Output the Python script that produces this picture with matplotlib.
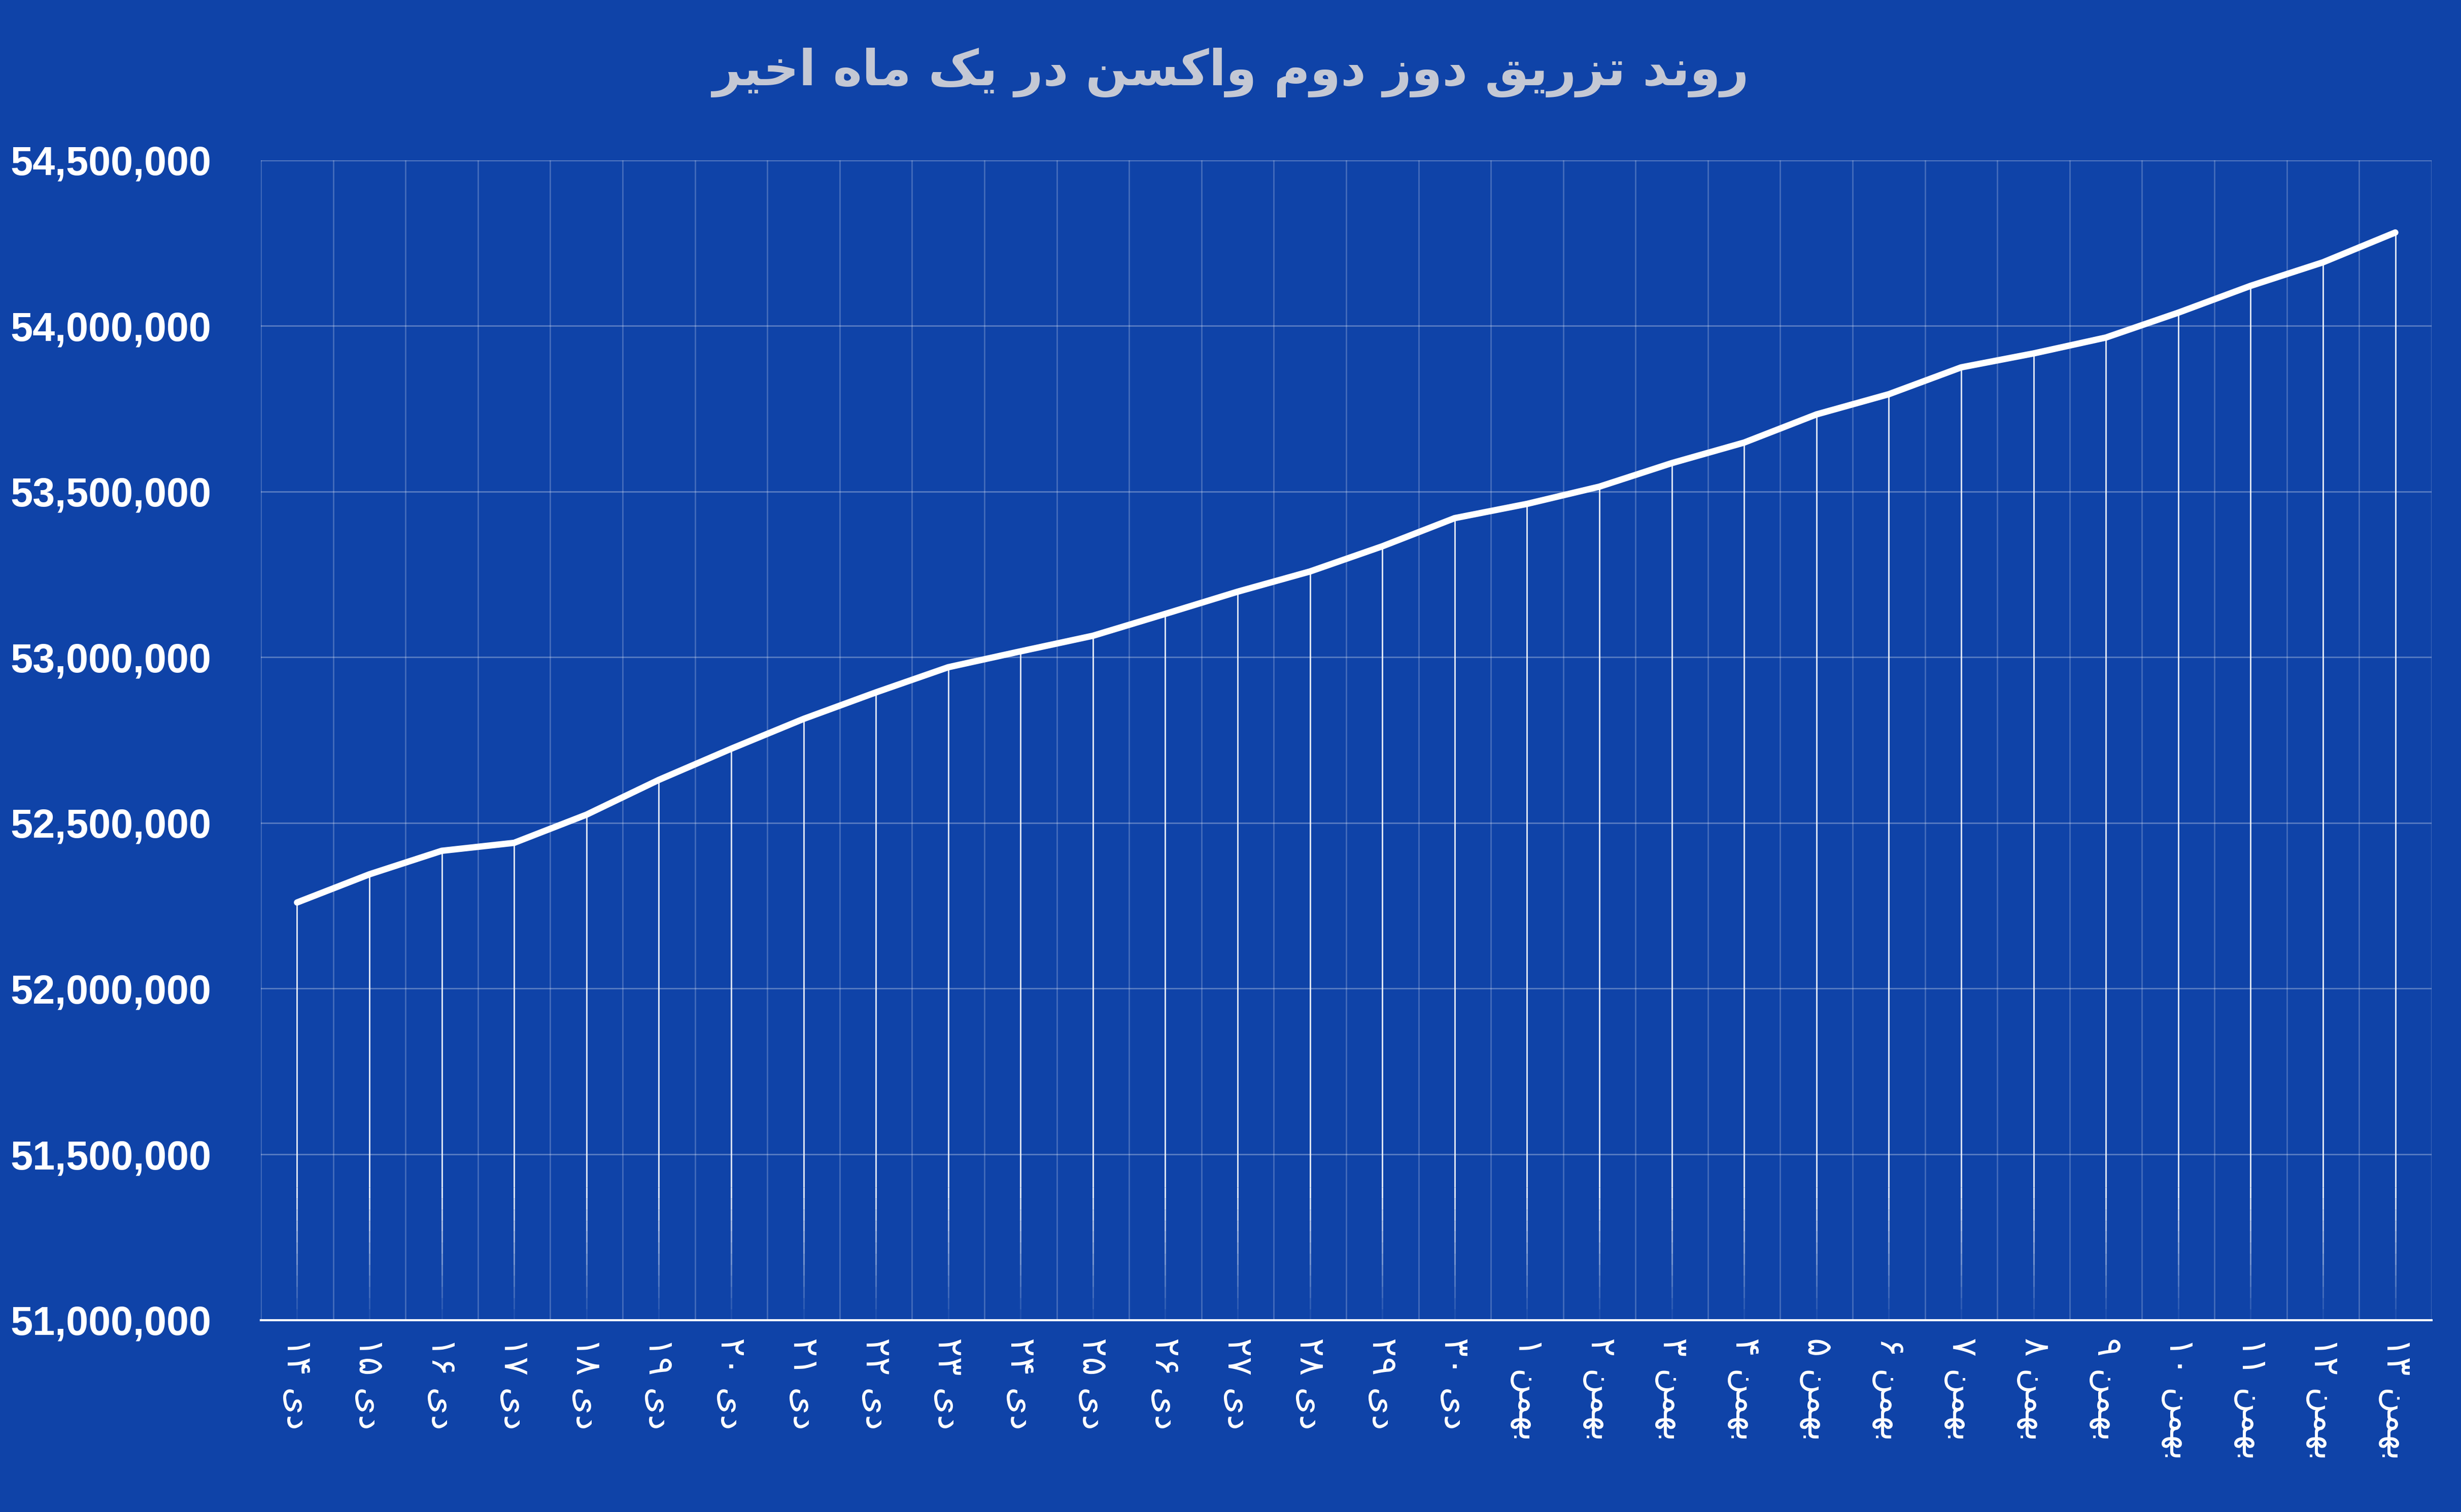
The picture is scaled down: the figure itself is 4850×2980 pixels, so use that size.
import matplotlib
matplotlib.use("Agg")
import matplotlib.pyplot as plt
import numpy as np

days = ["۱۴","۱۵","۱۶","۱۷","۱۸","۱۹","۲۰","۲۱","۲۲","۲۳","۲۴","۲۵","۲۶","۲۷","۲۸","۲۹","۳۰",
        "۱","۲","۳","۴","۵","۶","۷","۸","۹","۱۰","۱۱","۱۲","۱۳"]
months = ["دی"]*17 + ["بهمن"]*13
values = [52260000,52345000,52416000,52440000,52525000,52630000,52724000,52814000,52894000,52970000,
          53018000,53065000,53131000,53198000,53259000,53335000,53420000,53463000,53515000,53586000,
          53648000,53733000,53794000,53875000,53917000,53965000,54040000,54121000,54192000,54282000]
title = "روند تزریق دوز دوم واکسن در یک ماه اخیر"

FORMS = {
 'ا':('\uFE8D','\uFE8E',None,None),'ب':('\uFE8F','\uFE90','\uFE91','\uFE92'),
 'ت':('\uFE95','\uFE96','\uFE97','\uFE98'),'خ':('\uFEA5','\uFEA6','\uFEA7','\uFEA8'),
 'د':('\uFEA9','\uFEAA',None,None),'ر':('\uFEAD','\uFEAE',None,None),
 'ز':('\uFEAF','\uFEB0',None,None),'س':('\uFEB1','\uFEB2','\uFEB3','\uFEB4'),
 'ق':('\uFED5','\uFED6','\uFED7','\uFED8'),'م':('\uFEE1','\uFEE2','\uFEE3','\uFEE4'),
 'ن':('\uFEE5','\uFEE6','\uFEE7','\uFEE8'),'ه':('\uFEE9','\uFEEA','\uFEEB','\uFEEC'),
 'و':('\uFEED','\uFEEE',None,None),'ی':('\uFBFC','\uFBFD','\uFBFE','\uFBFF'),
 'ک':('\uFB8E','\uFB8F','\uFB90','\uFB91'),
}
def shape(word):
    out=[]
    n=len(word)
    for i,c in enumerate(word):
        if c not in FORMS:
            out.append(c); continue
        f=FORMS[c]
        prev=word[i-1] if i>0 else None
        nxt=word[i+1] if i<n-1 else None
        jp = prev in FORMS and FORMS[prev][2] is not None
        jn = nxt in FORMS and f[2] is not None
        if jp and jn: out.append(f[3])
        elif jp: out.append(f[1])
        elif jn: out.append(f[2])
        else: out.append(f[0])
    return ''.join(out)
def visual(text):
    return ' '.join(shape(w)[::-1] for w in text.split(' ')[::-1])

BG = "#0f43a8"
fig = plt.figure(figsize=(48.5, 29.8), dpi=100, facecolor=BG)
ax = fig.add_axes([0.106, 0.127, 0.882, 0.767], facecolor=BG)
x = np.arange(len(values))
ax.set_xlim(-0.5, len(values)-0.5)
ax.set_ylim(51000000, 54500000)

for e in np.arange(-0.5, len(values), 1.0):
    ax.axvline(e, color="white", alpha=0.22, lw=2, zorder=1)
for yv in np.arange(51500000, 54500001, 500000):
    ax.axhline(yv, color="white", alpha=0.3, lw=2, zorder=1)

ax.vlines(x, 51400000, values, color="white", alpha=0.85, lw=2.2, zorder=2)
steps = 12
edges = np.linspace(51000000, 51400000, steps+1)
for k in range(steps):
    ax.vlines(x, edges[k], edges[k+1], color="white", alpha=0.85*(k+1)/steps, lw=2.2, zorder=2)

ax.plot(x, values, color="white", lw=9, zorder=3, solid_joinstyle="round", solid_capstyle="round")

for s in ["top","right","left"]:
    ax.spines[s].set_visible(False)
ax.spines["bottom"].set_color("white")
ax.spines["bottom"].set_linewidth(3)

ax.set_yticks(np.arange(51000000, 54500001, 500000))
ax.set_yticklabels([f"{int(v):,}" for v in np.arange(51000000, 54500001, 500000)],
                   fontsize=57, fontweight="bold", color="white", family="Liberation Sans")
ax.tick_params(axis="y", length=0, pad=70)
ax.tick_params(axis="x", length=0, pad=25)
ax.set_xticks(x)
ax.set_xticklabels([d + " " + visual(m) for d, m in zip(days, months)],
                   rotation=-90, fontsize=50, color="white", family="DejaVu Sans", va="top", ha="center")

fig.text(0.50, 0.952, visual(title), ha="center", va="center", fontsize=70, fontweight="bold",
         color="#c4c8d4", family="DejaVu Sans")

fig.savefig("out.png", dpi=100, facecolor=BG)
